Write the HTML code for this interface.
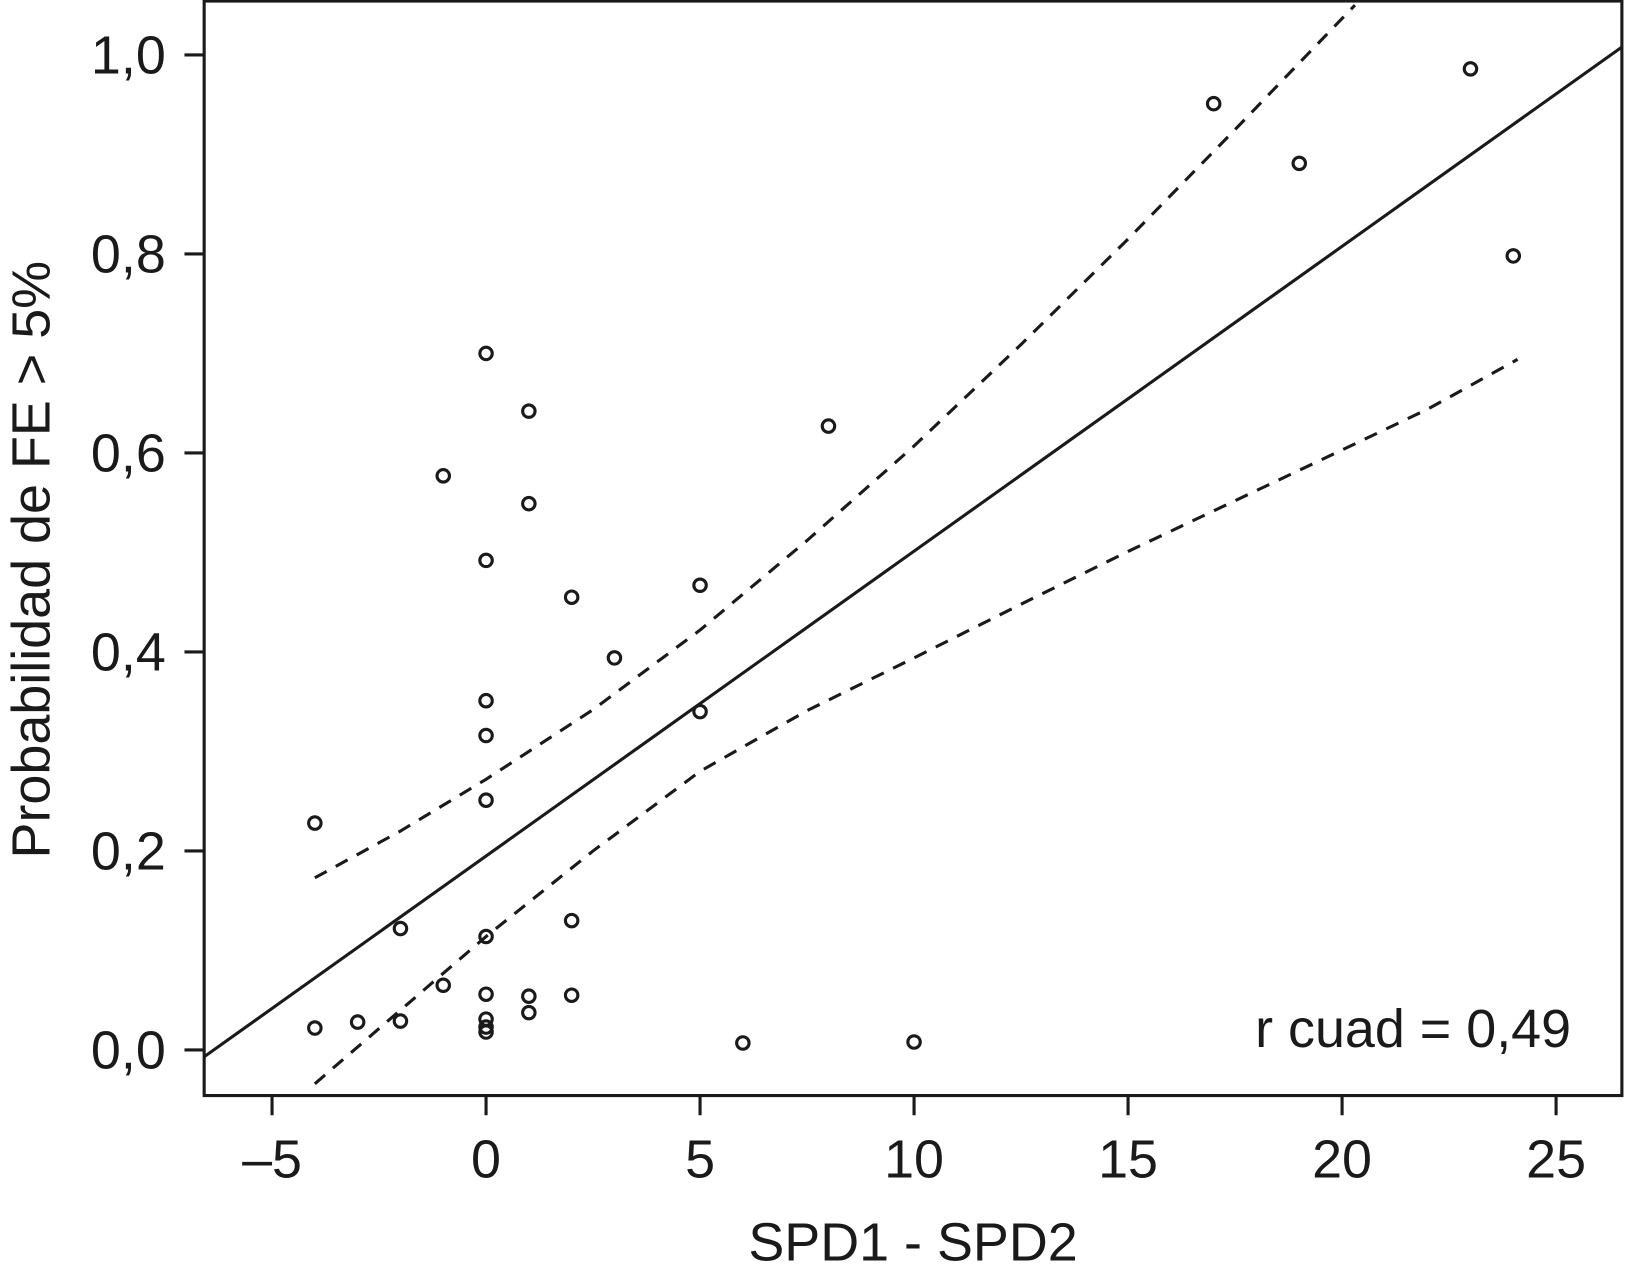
<!DOCTYPE html>
<html><head><meta charset="utf-8"><style>
html,body{margin:0;padding:0;background:#fff;}
svg{display:block;font-family:"Liberation Sans",Arial,sans-serif;}
</style></head><body>
<svg id="chart" width="1625" height="1279" viewBox="0 0 1568 1234" preserveAspectRatio="none">
<g id="g"></g>
</svg>
<script>
const xTicks=[-5,0,5,10,15,20,25];
const yTicks=[0,0.2,0.4,0.6,0.8,1.0];
const yTickLabels=["0,0","0,2","0,4","0,6","0,8","1,0"];
const ptX=[-4,-4,-3,-2,-2,-1,-1,0,0,0,0,0,0,0,0,0,0,1,1,1,1,2,2,2,3,5,5,6,8,10,17,19,23,24];
const ptY=[0.228,0.022,0.028,0.122,0.029,0.577,0.065,0.70,0.492,0.351,0.316,0.251,0.114,0.056,0.031,0.023,0.018,0.642,0.549,0.054,0.0375,0.455,0.130,0.055,0.394,0.467,0.340,0.007,0.627,0.008,0.951,0.891,0.986,0.798];
const fitX=[-6.59,26.54];
const fitY=[-0.007,1.008];
const upX=[-4,-2,0,2.5,5,7.5,10,12.5,15,17.5,20.3];
const upY=[0.173,0.22,0.272,0.342,0.422,0.512,0.607,0.709,0.815,0.925,1.05];
const loX=[-4,-2,0,2.5,5,7.5,10,12.5,15,17.5,20,22,24.1];
const loY=[-0.034,0.04,0.114,0.2,0.28,0.341,0.394,0.448,0.501,0.552,0.603,0.644,0.694];

const L=197,R=1565,T=1,B=1057;
const xs=v=>469+41.3*v;
const ys=v=>1013-960*v;
const NS="http://www.w3.org/2000/svg";
const g=document.getElementById('g');
function mk(t,a){const e=document.createElementNS(NS,t);for(const k in a)e.setAttribute(k,a[k]);g.appendChild(e);return e;}

const frame=mk('rect',{x:L,y:T,width:R-L,height:B-T,fill:'none',stroke:'#1a1a1a','stroke-width':3});



xTicks.forEach(v=>{
  const t=mk('line',{x1:xs(v),x2:xs(v),y1:B,y2:B+19,stroke:'#1a1a1a','stroke-width':3});
  
  
  const l=mk('text',{x:xs(v),y:1136,'font-size':52,'text-anchor':'middle',fill:'#1a1a1a'});
  l.textContent=v<0?'\u2013'+Math.abs(v):String(v);
  
  
});
yTicks.forEach((v,i)=>{
  const t=mk('line',{x1:L-19,x2:L,y1:ys(v),y2:ys(v),stroke:'#1a1a1a','stroke-width':3});
  
  
  const l=mk('text',{x:160,y:ys(v)+18,'font-size':52,'text-anchor':'end',fill:'#1a1a1a'});
  l.textContent=yTickLabels[i];
  
  
});

const xt=mk('text',{x:881,y:1216,'font-size':52,'text-anchor':'middle',fill:'#1a1a1a'});
xt.textContent='SPD1 - SPD2';


const yt=mk('text',{x:0,y:0,'font-size':52,'text-anchor':'middle',fill:'#1a1a1a',transform:'translate(48,540) rotate(-90)'});
yt.textContent='Probabilidad de FE > 5%';



const cp=mk('clipPath',{id:'cp'});
const cr=document.createElementNS(NS,'rect');
cr.setAttribute('x',L);cr.setAttribute('y',T);cr.setAttribute('width',R-L);cr.setAttribute('height',B-T);
cp.appendChild(cr);

const fit=mk('line',{x1:xs(fitX[0]),y1:ys(fitY[0]),x2:xs(fitX[1]),y2:ys(fitY[1]),stroke:'#1a1a1a','stroke-width':3,'clip-path':'url(#cp)'});



function poly(X,Y,name){
  const p=mk('polyline',{points:X.map((x,i)=>xs(x)+','+ys(Y[i])).join(' '),fill:'none',stroke:'#1a1a1a','stroke-width':3,'stroke-dasharray':'13 10','stroke-linejoin':'round','clip-path':'url(#cp)'});
  
  
}
poly(upX,upY,'upper-confidence-band');
poly(loX,loY,'lower-confidence-band');

ptX.forEach((x,i)=>{
  const c=mk('circle',{cx:xs(x),cy:ys(ptY[i]),r:6,fill:'none',stroke:'#1a1a1a','stroke-width':3});
  
  
});

const rq=mk('text',{x:1516,y:1010,'font-size':52,'text-anchor':'end',fill:'#1a1a1a'});
rq.textContent='r cuad = 0,49';


</script>
</body></html>
